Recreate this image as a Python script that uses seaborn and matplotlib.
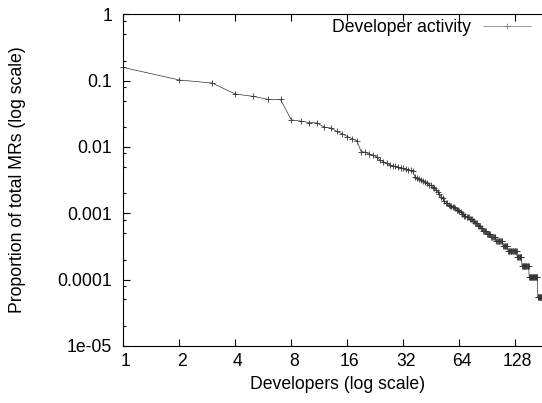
import matplotlib
matplotlib.use("Agg")
import matplotlib.pyplot as plt
import matplotlib.ticker as mticker
import matplotlib.transforms as mtransforms
import numpy as np
import pandas as pd
import seaborn as sns

# ---- data ----
TOTAL_MRS = 18500
# MR count per developer, ranked by activity (rank 1 .. 177)
mr_counts = [
    2920, 1890, 1700, 1160, 1070, 965, 960, 472, 453, 431,
    426, 368, 357, 318, 292, 265, 246, 228, 157, 154,
    144, 139, 131, 116, 111, 105, 100, 96, 94, 92,
    90, 88, 86, 84, 82, 80, 65, 63, 61, 59,
    57, 55, 52, 50, 49, 46, 44, 42, 39, 36,
    33, 31, 28, 26, 26, 25, 24, 24, 23, 23,
    22, 21, 21, 20, 19, 18, 18, 17, 17, 16,
    16, 16, 15, 15, 15, 14, 14, 13, 13, 13,
    12, 12, 12, 11, 11, 10, 10, 10, 10, 9,
    9, 9, 9, 9, 8, 8, 8, 8, 8, 8,
    7, 7, 7, 7, 7, 7, 7, 7, 7, 6,
    6, 6, 6, 6, 6, 6, 5, 5, 5, 5,
    5, 5, 5, 5, 5, 5, 5, 5, 5, 5,
    4, 4, 4, 4, 4, 4, 4, 4, 3, 3,
    3, 3, 3, 3, 3, 3, 3, 3, 3, 3,
    3, 2, 2, 2, 2, 2, 2, 2, 2, 2,
    2, 2, 2, 2, 2, 2, 2, 2, 1, 1,
    1, 1, 1, 1, 1, 1, 1,
]
x_ticks = [1, 2, 4, 8, 16, 32, 64, 128]
x_tick_labels = ["1", "2", "4", "8", "16", "32", "64", "128"]
y_ticks = [1e-5, 1e-4, 1e-3, 1e-2, 1e-1, 1]
y_tick_labels = ["1e-05", "0.0001", "0.001", "0.01", "0.1", "1"]
series_label = "Developer activity"

df = pd.DataFrame({
    "developer": np.arange(1, len(mr_counts) + 1),
    "proportion": np.array(mr_counts, dtype=float) / TOTAL_MRS,
})

sns.set_style("ticks")
plt.rcParams["font.family"] = ["Liberation Sans", "DejaVu Sans"]
plt.rcParams["text.color"] = "black"
plt.rcParams["axes.labelcolor"] = "black"
FS = 12.7
plt.rcParams["font.size"] = FS

W, H = 542, 403
fig = plt.figure(figsize=(W / 100, H / 100), dpi=100)
left, right, top, bottom = 123.3, 571.3, 14.3, 345.8
aw, ah = right - left, bottom - top
ax = fig.add_axes([left / W, 1 - bottom / H, aw / W, ah / H])

sns.lineplot(data=df, x="developer", y="proportion", ax=ax,
             color="#333333", linewidth=0.5, marker="+", markersize=5,
             markeredgewidth=0.6, markeredgecolor="#333333",
             label=series_label, clip_on=False)

ax.set_xscale("log")
ax.set_yscale("log")
ax.set_xlim(1, 256)
ax.set_ylim(1e-5, 1)

ax.xaxis.set_major_locator(mticker.FixedLocator(x_ticks))
ax.xaxis.set_major_formatter(mticker.FixedFormatter(x_tick_labels))
ax.xaxis.set_minor_locator(mticker.NullLocator())
ax.yaxis.set_major_locator(mticker.FixedLocator(y_ticks))
ax.yaxis.set_major_formatter(mticker.FixedFormatter(y_tick_labels))
ax.yaxis.set_minor_locator(mticker.LogLocator(base=10, subs=[2, 5, 8]))
ax.yaxis.set_minor_formatter(mticker.NullFormatter())

ax.tick_params(which="both", direction="in", top=True, right=True, color="black", width=0.8)
ax.tick_params(which="major", length=5, labelsize=FS, colors="black")
ax.tick_params(which="minor", length=2.5)
ax.tick_params(axis="y", which="major", pad=8)
ax.tick_params(axis="x", which="major", pad=5)

# gnuplot places the x tick labels slightly to the right of their ticks
shift = mtransforms.ScaledTranslation(2.5 / 100, 0, fig.dpi_scale_trans)
for lbl in ax.get_xticklabels():
    lbl.set_transform(lbl.get_transform() + shift)

for s in ax.spines.values():
    s.set_visible(True)
    s.set_color("black")
    s.set_linewidth(0.8)

ax.set_xlabel("Developers (log scale)", fontsize=FS)
ax.xaxis.set_label_coords((338 - left) / aw, -(376 - bottom) / ah)
ax.xaxis.label.set_va("top")
ax.xaxis.label.set_ha("center")

ax.set_ylabel("Proportion of total MRs (log scale)", fontsize=FS)
ax.yaxis.set_label_coords((18 - left) / aw, 0.5)
ax.yaxis.label.set_va("center")
ax.yaxis.label.set_ha("center")

leg = ax.legend(loc="upper right", bbox_to_anchor=(531 / W, 1 - 19.5 / H),
                bbox_transform=fig.transFigure, frameon=False, markerfirst=False,
                handlelength=2.7, handletextpad=0.7, borderpad=0, borderaxespad=0,
                fontsize=FS)
for h in leg.legend_handles:
    h.set_color("#777777")
    h.set_markeredgecolor("#777777")

fig.savefig("out.png", dpi=100)
